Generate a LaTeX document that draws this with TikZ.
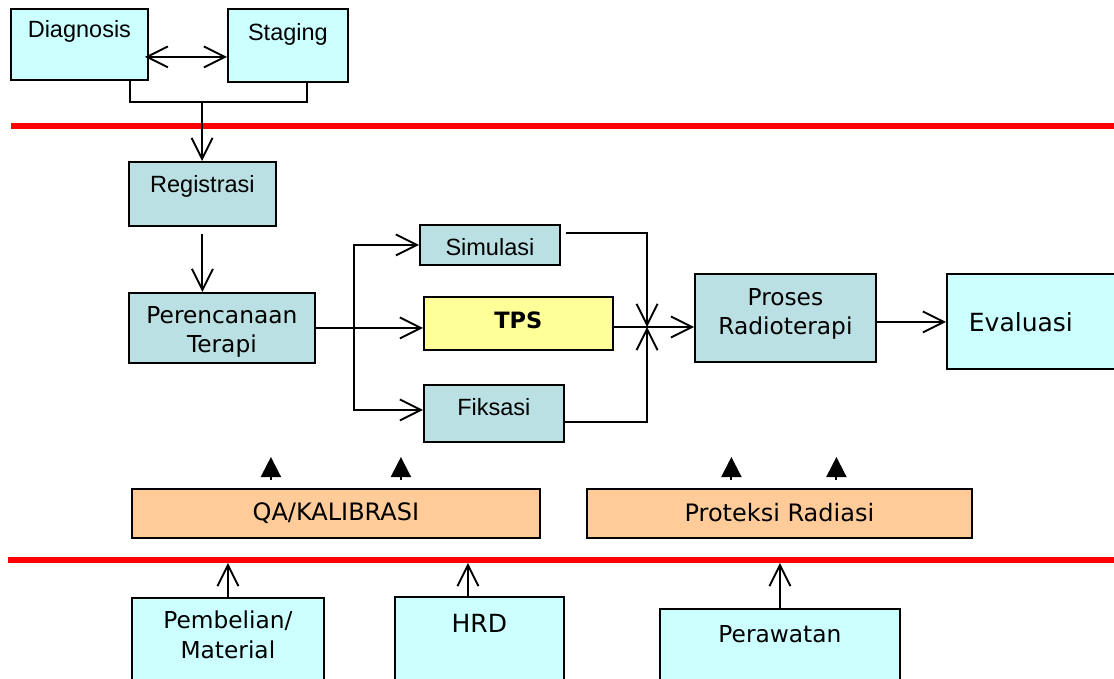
\documentclass[tikz,border=0pt]{standalone}
\usepackage{fontspec}
\usetikzlibrary{arrows.meta}
\newfontfamily\arialfont{Liberation Sans}
\newfontfamily\verdfont{DejaVu Sans}
\definecolor{cyanbox}{HTML}{CCFFFF}
\definecolor{tealbox}{HTML}{BBE0E3}
\definecolor{tpsbox}{HTML}{FFFF99}
\definecolor{qabox}{HTML}{FFCC99}

\begin{document}
\begin{tikzpicture}[x=1pt, y=-1pt,
    box/.style={draw, line width=1.8pt, inner sep=0pt, anchor=north west},
    ar/.style={font=\arialfont\fontsize{23.5}{28}\selectfont},
    vd/.style={font=\verdfont\fontsize{23.3}{29}\selectfont},
    tb/.style n args={2}{text height=#1pt, text depth=#2pt},
    line/.style={line width=1.9pt},
    arr/.style={line, -{Straight Barb[length=21pt, width=21pt]}},
    dblarr/.style={line, {Straight Barb[length=21pt, width=21pt]}-{Straight Barb[length=21pt, width=21pt]}},
    tri/.style={line, -{Triangle[length=20pt, width=20pt]}},
    redline/.style={line width=5.5pt, red}]
  \clip (0,0) rectangle (1114,679);

  \coordinate (redAL) at (11,126);
  \coordinate (redAR) at (1114,126);
  \coordinate (redBL) at (8,560);
  \coordinate (redBR) at (1114,560);
  \draw[redline] (redAL) -- (redAR);
  \draw[redline] (redBL) -- (redBR);

  \node[box, ar, fill=cyanbox, minimum width=137pt, tb={29}{42}] (diag) at (10,8) {Diagnosis};
  \node[box, ar, fill=cyanbox, minimum width=120pt, tb={32}{41}] (stag) at (227,8) {Staging};
  \node[box, ar, fill=tealbox, minimum width=147pt, tb={30.7}{33.3}] (reg) at (128,161) {Registrasi};
  \node[box, vd, fill=tealbox, text width=186pt, align=center, tb={30.7}{39.3}] (plan) at (128,292) {Perencanaan\\Terapi};
  \node[box, ar, fill=tealbox, minimum width=140pt, tb={31}{9}] (sim) at (419,224) {Simulasi};
  \node[box, fill=tpsbox, minimum width=189pt, tb={32}{21},
    font=\verdfont\bfseries\fontsize{22.5}{26}\selectfont] (tps) at (423,296) {TPS};
  \node[box, ar, fill=tealbox, minimum width=140pt, tb={31}{26}] (fix) at (423,384) {Fiksasi};
  \node[box, vd, fill=tealbox, text width=181pt, align=center, tb={31.3}{56.7}] (proc) at (694,273) {Proses\\Radioterapi};
  \node[box, fill=cyanbox, text width=126pt, inner xsep=22pt, align=left, tb={58}{37},
    font=\verdfont\fontsize{25}{30}\selectfont] (eval) at (946,273) {Evaluasi};

  \node[box, fill=qabox, minimum width=408pt, tb={32}{17},
    font=\verdfont\fontsize{24}{29}\selectfont] (qa) at (131,488) {QA/KALIBRASI};
  \node[box, fill=qabox, minimum width=385pt, tb={32.7}{16.3},
    font=\verdfont\fontsize{24}{29}\selectfont] (prot) at (586,488) {Proteksi Radiasi};

  \node[box, vd, fill=cyanbox, text width=192pt, align=center, tb={31}{55},
    font=\verdfont\fontsize{23.3}{30}\selectfont] (pemb) at (131,597) {Pembelian/\\Material};
  \node[box, fill=cyanbox, minimum width=169pt, tb={35.7}{51.3},
    font=\verdfont\fontsize{25}{30}\selectfont] (hrd) at (394,596) {HRD};
  \node[box, vd, fill=cyanbox, minimum width=240pt, tb={33.7}{41.3}] (perw) at (659,608) {Perawatan};

  \coordinate (join) at (202,102);
  \coordinate (fork) at ([xshift=38pt]plan.east);
  \coordinate (merge) at (647,327);

  \draw[dblarr] ([shift={(-4pt,-12.5pt)}]diag.east) -- ([yshift=-12.5pt]diag.east -| stag.west);
  \draw[line] ([xshift=-19pt]diag.south east) |- (join) -| ([xshift=-42pt]stag.south east);
  \draw[arr] (join) -- (join |- reg.north);
  \draw[arr] ([yshift=-7pt]reg.south) -- (reg.south |- plan.north);

  \draw[arr] (plan.east) -- (plan.east -| tps.west);
  \draw[arr] (fork) |- (sim.west);
  \draw[arr] (fork) |- ([yshift=3.5pt]fix.west);
  \draw[arr] ([shift={(5pt,12pt)}]sim.east) -| (merge);
  \draw[arr] ([yshift=-8.5pt]fix.east) -| (merge);
  \draw[arr] (tps.east |- merge) -- (merge -| proc.west);
  \draw[arr] ([yshift=-4pt]proc.east) -- ([yshift=-4pt]proc.east -| eval.west);

  \foreach \dx in {-65,65}
    \draw[tri] ([shift={(\dx pt,8pt)}]qa.north) -- ++(0pt,23pt);
  \foreach \dx in {-48,57}
    \draw[tri] ([shift={(\dx pt,8pt)}]prot.north) -- ++(0pt,23pt);

  \draw[arr] (pemb.north) -- ([yshift=-3pt]pemb.north |- redBL);
  \draw[arr] ([xshift=-11.5pt]hrd.north) -- ([xshift=-11.5pt, yshift=-3pt]hrd.north |- redBL);
  \draw[arr] (perw.north) -- ([yshift=-3pt]perw.north |- redBL);
\end{tikzpicture}
\end{document}
